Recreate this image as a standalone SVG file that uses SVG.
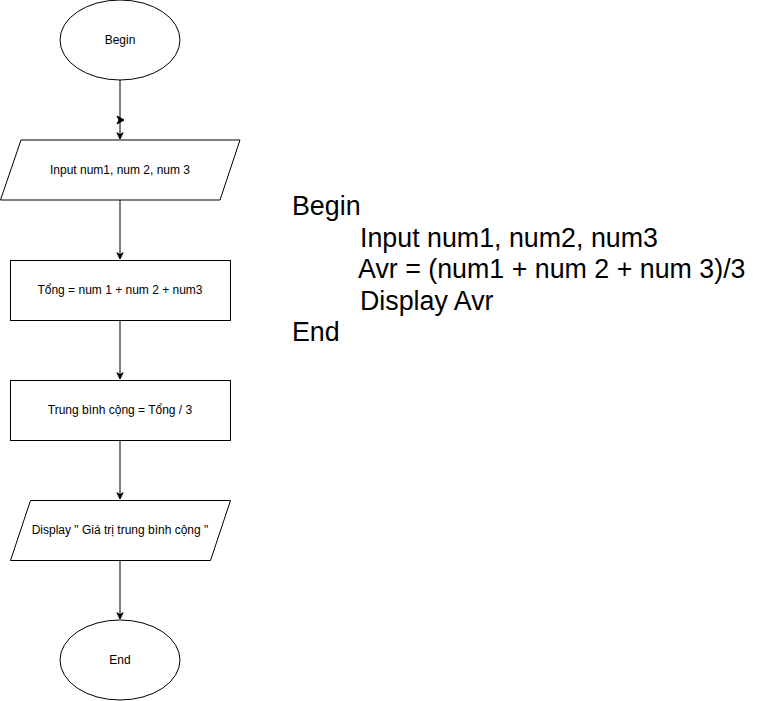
<svg xmlns="http://www.w3.org/2000/svg" width="781" height="701" viewBox="0 0 781 701">
<defs>
<style>
.s{fill:#fff;stroke:#000;stroke-width:1}
.t{font-family:"Liberation Sans",Arial,sans-serif;font-size:12px;fill:#000;text-anchor:middle;dominant-baseline:central}
.c{stroke:#000;stroke-width:1;fill:none}
.p{font-family:"Liberation Sans",Arial,sans-serif;font-size:26.8px;fill:#000}
</style>
<marker id="a" viewBox="0 0 10 10" refX="9" refY="5" markerWidth="8" markerHeight="8" markerUnits="userSpaceOnUse" orient="auto">
<path d="M1,1 L9,5 L1,9 L3.5,5 Z" fill="#000" stroke="#000"/>
</marker>
</defs>
<rect width="781" height="701" fill="#fff"/>
<g id="connectors">
<path class="c" d="M120,80 V139" marker-end="url(#a)"/>
<path d="M117,116 L124,120 L117,124 L119,120 Z" fill="#000" stroke="#000" stroke-width="1"/>
<path class="c" d="M120,200 V259" marker-end="url(#a)"/>
<path class="c" d="M120,320 V379" marker-end="url(#a)"/>
<path class="c" d="M120,440 V499" marker-end="url(#a)"/>
<path class="c" d="M120,560 V619" marker-end="url(#a)"/>
</g>
<g id="begin">
<ellipse class="s" cx="120" cy="40" rx="60" ry="40"/>
<text class="t" x="120" y="40">Begin</text>
</g>
<g id="input">
<polygon class="s" points="21,140 240,140 220,200 0.5,200"/>
<text class="t" x="120" y="170">Input num1, num 2, num 3</text>
</g>
<g id="tong">
<rect class="s" x="10.5" y="260.5" width="220" height="60"/>
<text class="t" x="120" y="290">Tổng = num 1 + num 2 + num3</text>
</g>
<g id="tbc">
<rect class="s" x="10.5" y="380.5" width="220" height="60"/>
<text class="t" x="120" y="410">Trung bình cộng = Tổng / 3</text>
</g>
<g id="display">
<polygon class="s" points="30.5,500.5 230.5,500.5 210.5,560.5 10.5,560.5"/>
<text class="t" x="120" y="530">Display " Giá trị trung bình cộng "</text>
</g>
<g id="end">
<ellipse class="s" cx="120" cy="660" rx="60" ry="40"/>
<text class="t" x="120" y="660">End</text>
</g>
<g id="pseudocode">
<text class="p" x="292" y="215">Begin</text>
<text class="p" x="360" y="246.5">Input num1, num2, num3</text>
<text class="p" x="358" y="278">Avr = (num1 + num 2 + num 3)/3</text>
<text class="p" x="360" y="309.5">Display Avr</text>
<text class="p" x="292" y="341">End</text>
</g>
</svg>
